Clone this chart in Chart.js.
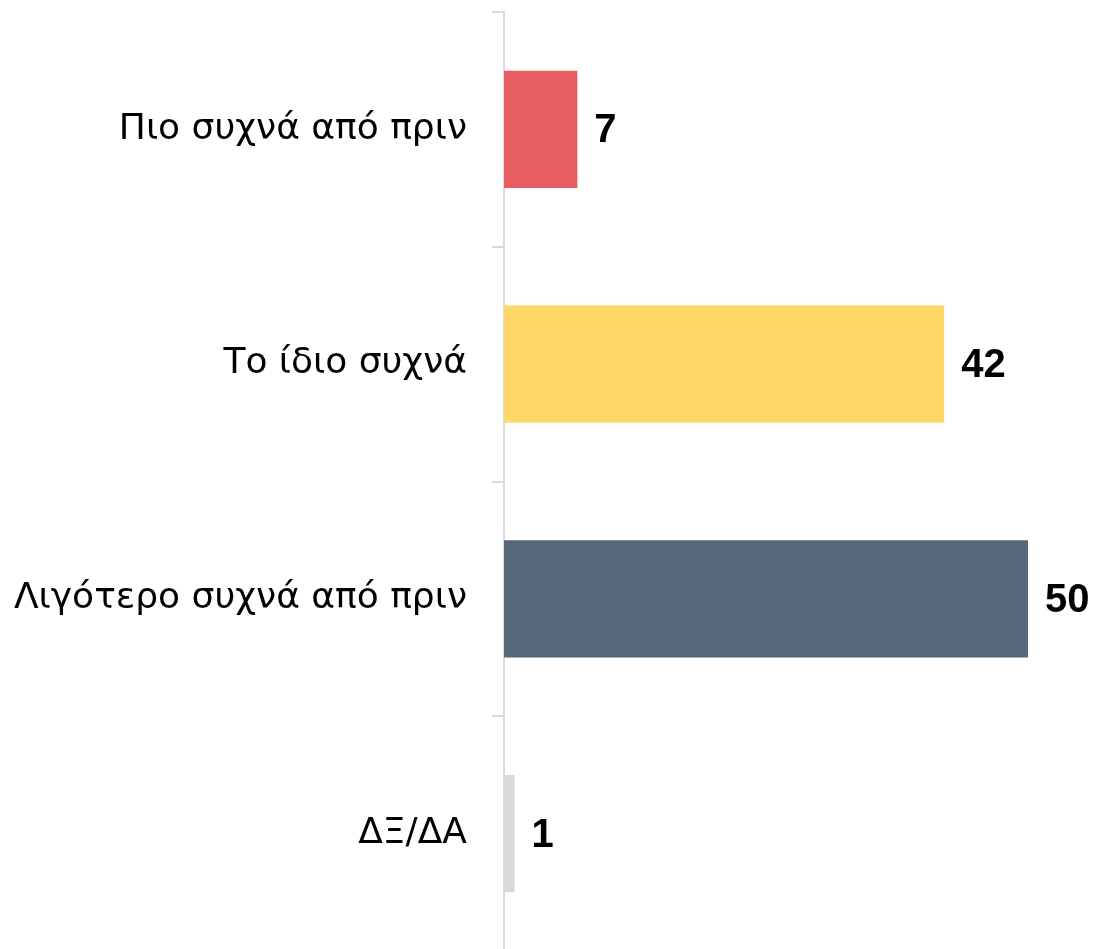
<!DOCTYPE html>
<html>
<head>
<meta charset="utf-8">
<script src="https://cdn.jsdelivr.net/npm/chart.js@4/dist/chart.umd.min.js"></script>
<style>
  html, body { margin: 0; padding: 0; background: #fff; overflow: hidden; }
  #wrap { width: 1097px; height: 951px; }
</style>
</head>
<body>
<div id="wrap"><canvas id="grafico"></canvas></div>
<script>
// dados
const categorias = ["Πιο συχνά από πριν", "Το ίδιο συχνά", "Λιγότερο συχνά από πριν", "ΔΞ/ΔΑ"];
const valores = [7, 42, 50, 1];
const cores = ["#E85D5F", "#FED866", "#546679", "#D9D9D9"];

// rótulos de valor no fim de cada barra
const rotulosValor = {
    id: "rotulosValor",
    afterDatasetsDraw(chart) {
        const ctx = chart.ctx;
        const meta = chart.getDatasetMeta(0);
        ctx.save();
        ctx.font = "bold 40px 'Liberation Sans', Arial, sans-serif";
        ctx.fillStyle = "#000";
        ctx.textAlign = "left";
        ctx.textBaseline = "middle";
        meta.data.forEach((bar, i) => {
            ctx.fillText(String(valores[i]), bar.x + 17, bar.y + 2);
        });
        ctx.restore();
    }
};

const ctx = document.getElementById("grafico").getContext("2d");
new Chart(ctx, {
    type: "bar",
    data: {
        labels: categorias,
        datasets: [{
            data: valores,
            backgroundColor: cores,
            borderWidth: 0,
            barPercentage: 0.5,
            categoryPercentage: 1.0
        }]
    },
    options: {
        indexAxis: "y",
        responsive: true,
        maintainAspectRatio: false,
        animation: false,
        layout: { padding: { top: 12, right: 69, bottom: 0, left: 0 } },
        plugins: {
            legend: { display: false },
            tooltip: { enabled: false }
        },
        scales: {
            x: {
                display: false,
                min: 0,
                max: 50
            },
            y: {
                afterFit(scale) {
                    scale.width = 504;
                    scale.paddingTop = 0;
                    scale.paddingBottom = 0;
                },
                border: { display: true, color: "#D9D9D9", width: 2 },
                grid: {
                    drawOnChartArea: false,
                    drawTicks: true,
                    tickLength: 12,
                    color: "#D9D9D9",
                    lineWidth: 2
                },
                ticks: {
                    color: "#000",
                    padding: 25,
                    font: { family: "'DejaVu Sans', sans-serif", size: 36 }
                }
            }
        }
    },
    plugins: [rotulosValor]
});
</script>
</body>
</html>
